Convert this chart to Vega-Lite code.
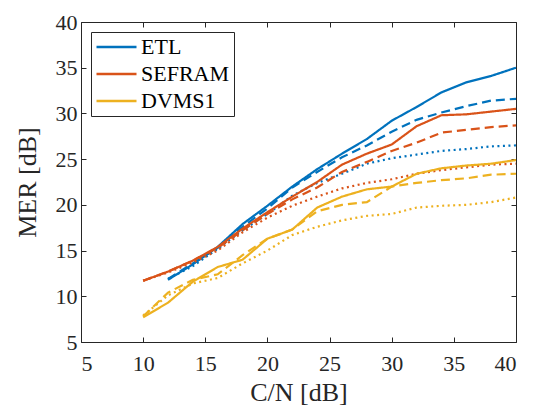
{
  "$schema": "https://vega.github.io/schema/vega-lite/v6.json",
  "width": 435,
  "height": 320,
  "autosize": {"type": "none"},
  "padding": {"left": 81, "top": 22, "right": 23, "bottom": 68},
  "background": "white",
  "config": {
    "font": "Liberation Serif, Times New Roman, serif",
    "view": {"stroke": "#262626", "strokeWidth": 1},
    "axis": {
      "grid": true,
      "gridColor": "#e3e3e3",
      "gridWidth": 1,
      "domain": false,
      "tickColor": "#262626",
      "tickSize": -5,
      "labelColor": "#262626",
      "titleColor": "#262626",
      "labelFont": "Liberation Serif, Times New Roman, serif",
      "titleFont": "Liberation Serif, Times New Roman, serif",
      "labelFontSize": 22,
      "titleFontSize": 26,
      "titleFontWeight": "normal"
    },
    "legend": {
      "labelFont": "Liberation Serif, Times New Roman, serif"
    }
  },
  "datasets": {
    "mer": [
      {"cn": 12, "mer": 11.8, "rx": "ETL", "run": "r1"},
      {"cn": 14, "mer": 13.5, "rx": "ETL", "run": "r1"},
      {"cn": 16, "mer": 15.4, "rx": "ETL", "run": "r1"},
      {"cn": 18, "mer": 17.9, "rx": "ETL", "run": "r1"},
      {"cn": 20, "mer": 19.9, "rx": "ETL", "run": "r1"},
      {"cn": 22, "mer": 22.0, "rx": "ETL", "run": "r1"},
      {"cn": 24, "mer": 23.9, "rx": "ETL", "run": "r1"},
      {"cn": 26, "mer": 25.6, "rx": "ETL", "run": "r1"},
      {"cn": 28, "mer": 27.2, "rx": "ETL", "run": "r1"},
      {"cn": 30, "mer": 29.2, "rx": "ETL", "run": "r1"},
      {"cn": 32, "mer": 30.7, "rx": "ETL", "run": "r1"},
      {"cn": 34, "mer": 32.3, "rx": "ETL", "run": "r1"},
      {"cn": 36, "mer": 33.4, "rx": "ETL", "run": "r1"},
      {"cn": 38, "mer": 34.1, "rx": "ETL", "run": "r1"},
      {"cn": 40, "mer": 35.0, "rx": "ETL", "run": "r1"},

      {"cn": 12, "mer": 11.9, "rx": "ETL", "run": "r2"},
      {"cn": 14, "mer": 13.6, "rx": "ETL", "run": "r2"},
      {"cn": 16, "mer": 15.3, "rx": "ETL", "run": "r2"},
      {"cn": 18, "mer": 17.6, "rx": "ETL", "run": "r2"},
      {"cn": 20, "mer": 19.6, "rx": "ETL", "run": "r2"},
      {"cn": 22, "mer": 21.9, "rx": "ETL", "run": "r2"},
      {"cn": 24, "mer": 23.6, "rx": "ETL", "run": "r2"},
      {"cn": 26, "mer": 25.2, "rx": "ETL", "run": "r2"},
      {"cn": 28, "mer": 26.5, "rx": "ETL", "run": "r2"},
      {"cn": 30, "mer": 28.0, "rx": "ETL", "run": "r2"},
      {"cn": 32, "mer": 29.3, "rx": "ETL", "run": "r2"},
      {"cn": 34, "mer": 30.1, "rx": "ETL", "run": "r2"},
      {"cn": 36, "mer": 30.8, "rx": "ETL", "run": "r2"},
      {"cn": 38, "mer": 31.4, "rx": "ETL", "run": "r2"},
      {"cn": 40, "mer": 31.6, "rx": "ETL", "run": "r2"},

      {"cn": 12, "mer": 11.9, "rx": "ETL", "run": "r3"},
      {"cn": 14, "mer": 13.3, "rx": "ETL", "run": "r3"},
      {"cn": 16, "mer": 15.2, "rx": "ETL", "run": "r3"},
      {"cn": 18, "mer": 17.2, "rx": "ETL", "run": "r3"},
      {"cn": 20, "mer": 19.0, "rx": "ETL", "run": "r3"},
      {"cn": 22, "mer": 21.0, "rx": "ETL", "run": "r3"},
      {"cn": 24, "mer": 22.4, "rx": "ETL", "run": "r3"},
      {"cn": 26, "mer": 23.4, "rx": "ETL", "run": "r3"},
      {"cn": 28, "mer": 24.5, "rx": "ETL", "run": "r3"},
      {"cn": 30, "mer": 25.1, "rx": "ETL", "run": "r3"},
      {"cn": 32, "mer": 25.5, "rx": "ETL", "run": "r3"},
      {"cn": 34, "mer": 25.9, "rx": "ETL", "run": "r3"},
      {"cn": 36, "mer": 26.1, "rx": "ETL", "run": "r3"},
      {"cn": 38, "mer": 26.4, "rx": "ETL", "run": "r3"},
      {"cn": 40, "mer": 26.5, "rx": "ETL", "run": "r3"},

      {"cn": 10, "mer": 11.7, "rx": "SEFRAM", "run": "r1"},
      {"cn": 12, "mer": 12.7, "rx": "SEFRAM", "run": "r1"},
      {"cn": 14, "mer": 13.9, "rx": "SEFRAM", "run": "r1"},
      {"cn": 16, "mer": 15.4, "rx": "SEFRAM", "run": "r1"},
      {"cn": 18, "mer": 17.4, "rx": "SEFRAM", "run": "r1"},
      {"cn": 20, "mer": 19.2, "rx": "SEFRAM", "run": "r1"},
      {"cn": 22, "mer": 20.9, "rx": "SEFRAM", "run": "r1"},
      {"cn": 24, "mer": 22.5, "rx": "SEFRAM", "run": "r1"},
      {"cn": 26, "mer": 24.4, "rx": "SEFRAM", "run": "r1"},
      {"cn": 28, "mer": 25.6, "rx": "SEFRAM", "run": "r1"},
      {"cn": 30, "mer": 26.6, "rx": "SEFRAM", "run": "r1"},
      {"cn": 32, "mer": 28.6, "rx": "SEFRAM", "run": "r1"},
      {"cn": 34, "mer": 29.8, "rx": "SEFRAM", "run": "r1"},
      {"cn": 36, "mer": 29.9, "rx": "SEFRAM", "run": "r1"},
      {"cn": 38, "mer": 30.2, "rx": "SEFRAM", "run": "r1"},
      {"cn": 40, "mer": 30.5, "rx": "SEFRAM", "run": "r1"},

      {"cn": 10, "mer": 11.7, "rx": "SEFRAM", "run": "r2"},
      {"cn": 12, "mer": 12.7, "rx": "SEFRAM", "run": "r2"},
      {"cn": 14, "mer": 13.9, "rx": "SEFRAM", "run": "r2"},
      {"cn": 16, "mer": 15.3, "rx": "SEFRAM", "run": "r2"},
      {"cn": 18, "mer": 17.2, "rx": "SEFRAM", "run": "r2"},
      {"cn": 20, "mer": 19.0, "rx": "SEFRAM", "run": "r2"},
      {"cn": 22, "mer": 20.6, "rx": "SEFRAM", "run": "r2"},
      {"cn": 24, "mer": 21.9, "rx": "SEFRAM", "run": "r2"},
      {"cn": 26, "mer": 23.6, "rx": "SEFRAM", "run": "r2"},
      {"cn": 28, "mer": 24.7, "rx": "SEFRAM", "run": "r2"},
      {"cn": 30, "mer": 25.9, "rx": "SEFRAM", "run": "r2"},
      {"cn": 32, "mer": 26.8, "rx": "SEFRAM", "run": "r2"},
      {"cn": 34, "mer": 27.9, "rx": "SEFRAM", "run": "r2"},
      {"cn": 36, "mer": 28.2, "rx": "SEFRAM", "run": "r2"},
      {"cn": 38, "mer": 28.5, "rx": "SEFRAM", "run": "r2"},
      {"cn": 40, "mer": 28.7, "rx": "SEFRAM", "run": "r2"},

      {"cn": 10, "mer": 11.7, "rx": "SEFRAM", "run": "r3"},
      {"cn": 12, "mer": 12.6, "rx": "SEFRAM", "run": "r3"},
      {"cn": 14, "mer": 13.7, "rx": "SEFRAM", "run": "r3"},
      {"cn": 16, "mer": 15.0, "rx": "SEFRAM", "run": "r3"},
      {"cn": 18, "mer": 17.0, "rx": "SEFRAM", "run": "r3"},
      {"cn": 20, "mer": 18.6, "rx": "SEFRAM", "run": "r3"},
      {"cn": 22, "mer": 19.9, "rx": "SEFRAM", "run": "r3"},
      {"cn": 24, "mer": 20.9, "rx": "SEFRAM", "run": "r3"},
      {"cn": 26, "mer": 21.8, "rx": "SEFRAM", "run": "r3"},
      {"cn": 28, "mer": 22.4, "rx": "SEFRAM", "run": "r3"},
      {"cn": 30, "mer": 22.8, "rx": "SEFRAM", "run": "r3"},
      {"cn": 32, "mer": 23.4, "rx": "SEFRAM", "run": "r3"},
      {"cn": 34, "mer": 23.8, "rx": "SEFRAM", "run": "r3"},
      {"cn": 36, "mer": 24.1, "rx": "SEFRAM", "run": "r3"},
      {"cn": 38, "mer": 24.4, "rx": "SEFRAM", "run": "r3"},
      {"cn": 40, "mer": 24.5, "rx": "SEFRAM", "run": "r3"},

      {"cn": 10, "mer": 7.7, "rx": "DVMS1", "run": "r1"},
      {"cn": 12, "mer": 9.3, "rx": "DVMS1", "run": "r1"},
      {"cn": 14, "mer": 11.6, "rx": "DVMS1", "run": "r1"},
      {"cn": 16, "mer": 13.2, "rx": "DVMS1", "run": "r1"},
      {"cn": 18, "mer": 14.0, "rx": "DVMS1", "run": "r1"},
      {"cn": 20, "mer": 16.3, "rx": "DVMS1", "run": "r1"},
      {"cn": 22, "mer": 17.3, "rx": "DVMS1", "run": "r1"},
      {"cn": 24, "mer": 19.7, "rx": "DVMS1", "run": "r1"},
      {"cn": 26, "mer": 20.9, "rx": "DVMS1", "run": "r1"},
      {"cn": 28, "mer": 21.7, "rx": "DVMS1", "run": "r1"},
      {"cn": 30, "mer": 22.0, "rx": "DVMS1", "run": "r1"},
      {"cn": 32, "mer": 23.4, "rx": "DVMS1", "run": "r1"},
      {"cn": 34, "mer": 24.0, "rx": "DVMS1", "run": "r1"},
      {"cn": 36, "mer": 24.3, "rx": "DVMS1", "run": "r1"},
      {"cn": 38, "mer": 24.5, "rx": "DVMS1", "run": "r1"},
      {"cn": 40, "mer": 24.9, "rx": "DVMS1", "run": "r1"},

      {"cn": 10, "mer": 7.8, "rx": "DVMS1", "run": "r2"},
      {"cn": 12, "mer": 10.4, "rx": "DVMS1", "run": "r2"},
      {"cn": 14, "mer": 11.8, "rx": "DVMS1", "run": "r2"},
      {"cn": 16, "mer": 12.4, "rx": "DVMS1", "run": "r2"},
      {"cn": 18, "mer": 14.5, "rx": "DVMS1", "run": "r2"},
      {"cn": 20, "mer": 16.3, "rx": "DVMS1", "run": "r2"},
      {"cn": 22, "mer": 17.3, "rx": "DVMS1", "run": "r2"},
      {"cn": 24, "mer": 19.3, "rx": "DVMS1", "run": "r2"},
      {"cn": 26, "mer": 20.0, "rx": "DVMS1", "run": "r2"},
      {"cn": 28, "mer": 20.3, "rx": "DVMS1", "run": "r2"},
      {"cn": 30, "mer": 22.0, "rx": "DVMS1", "run": "r2"},
      {"cn": 32, "mer": 22.4, "rx": "DVMS1", "run": "r2"},
      {"cn": 34, "mer": 22.7, "rx": "DVMS1", "run": "r2"},
      {"cn": 36, "mer": 22.9, "rx": "DVMS1", "run": "r2"},
      {"cn": 38, "mer": 23.3, "rx": "DVMS1", "run": "r2"},
      {"cn": 40, "mer": 23.4, "rx": "DVMS1", "run": "r2"},

      {"cn": 10, "mer": 7.9, "rx": "DVMS1", "run": "r3"},
      {"cn": 12, "mer": 10.1, "rx": "DVMS1", "run": "r3"},
      {"cn": 14, "mer": 11.4, "rx": "DVMS1", "run": "r3"},
      {"cn": 16, "mer": 12.0, "rx": "DVMS1", "run": "r3"},
      {"cn": 18, "mer": 13.6, "rx": "DVMS1", "run": "r3"},
      {"cn": 20, "mer": 15.0, "rx": "DVMS1", "run": "r3"},
      {"cn": 22, "mer": 16.7, "rx": "DVMS1", "run": "r3"},
      {"cn": 24, "mer": 17.6, "rx": "DVMS1", "run": "r3"},
      {"cn": 26, "mer": 18.3, "rx": "DVMS1", "run": "r3"},
      {"cn": 28, "mer": 18.8, "rx": "DVMS1", "run": "r3"},
      {"cn": 30, "mer": 19.0, "rx": "DVMS1", "run": "r3"},
      {"cn": 32, "mer": 19.7, "rx": "DVMS1", "run": "r3"},
      {"cn": 34, "mer": 19.9, "rx": "DVMS1", "run": "r3"},
      {"cn": 36, "mer": 20.0, "rx": "DVMS1", "run": "r3"},
      {"cn": 38, "mer": 20.3, "rx": "DVMS1", "run": "r3"},
      {"cn": 40, "mer": 20.8, "rx": "DVMS1", "run": "r3"}
    ]
  },
  "data": {"name": "mer"},
  "layer": [
    {
      "mark": {"type": "line", "opacity": 0},
      "encoding": {
        "x": {
          "field": "cn", "type": "quantitative",
          "scale": {"domain": [5, 40], "nice": false, "zero": false},
          "axis": {"orient": "top", "values": [5, 10, 15, 20, 25, 30, 35, 40], "labels": false, "grid": false, "title": null}
        },
        "y": {
          "field": "mer", "type": "quantitative",
          "scale": {"domain": [5, 40], "nice": false, "zero": false},
          "axis": {"orient": "right", "values": [5, 10, 15, 20, 25, 30, 35, 40], "labels": false, "grid": false, "title": null}
        },
        "detail": {"field": "rx"}
      }
    },
    {
      "mark": {"type": "line", "strokeWidth": 2.2, "clip": true},
      "encoding": {
        "x": {
          "field": "cn", "type": "quantitative", "title": "C/N [dB]",
          "scale": {"domain": [5, 40], "nice": false, "zero": false},
          "axis": {"orient": "bottom", "values": [5, 10, 15, 20, 25, 30, 35, 40], "labelPadding": 16, "titlePadding": 5}
        },
        "y": {
          "field": "mer", "type": "quantitative", "title": "MER [dB]",
          "scale": {"domain": [5, 40], "nice": false, "zero": false},
          "axis": {"orient": "left", "values": [5, 10, 15, 20, 25, 30, 35, 40], "labelPadding": 9, "titlePadding": 15}
        },
        "color": {
          "field": "rx", "type": "nominal",
          "scale": {"domain": ["ETL", "SEFRAM", "DVMS1"], "range": ["#0072BD", "#D95319", "#EDB120"]},
          "legend": {
            "title": null,
            "orient": "none",
            "legendX": 10,
            "legendY": 10,
            "symbolType": "stroke",
            "symbolSize": 1600,
            "symbolStrokeWidth": 2.5,
            "symbolOffset": 0,
            "clipHeight": 22,
            "labelFont": "Liberation Serif, Times New Roman, serif",
            "labelFontSize": 22,
            "labelColor": "#000000",
            "rowPadding": 5,
            "padding": 4,
            "strokeColor": "#262626",
            "fillColor": "white",
            "labelOffset": 3
          }
        },
        "strokeDash": {
          "field": "run", "type": "nominal",
          "scale": {"domain": ["r1", "r2", "r3"], "range": [[1, 0], [9, 5], [2, 3.5]]},
          "legend": null
        },
        "detail": {"field": "run"}
      }
    }
  ],
  "resolve": {"axis": {"x": "independent", "y": "independent"}}
}
